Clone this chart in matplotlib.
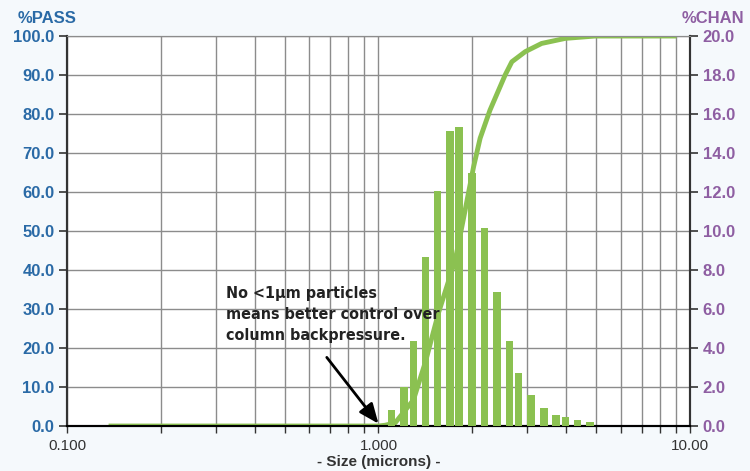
import numpy as np
import matplotlib.pyplot as plt
from matplotlib.ticker import LogLocator, NullFormatter

# bar sizes (microns) and %CHAN values
bar_size = [1.103, 1.209, 1.295, 1.415, 1.549, 1.699, 1.816, 1.993, 2.19,
            2.40, 2.63, 2.81, 3.09, 3.40, 3.71, 3.98, 4.35, 4.77]
bar_chan = [0.82, 1.98, 4.37, 8.68, 12.07, 15.13, 15.35, 12.96, 10.17,
            6.89, 4.37, 2.70, 1.59, 0.94, 0.56, 0.44, 0.31, 0.19]

# cumulative curve (%PASS)
cum_size = [0.136, 1.0, 1.05, 1.131, 1.295, 1.412, 1.558, 1.764, 1.898, 2.02,
            2.12, 2.28, 2.55, 2.68, 2.96, 3.34, 3.98, 4.96, 9.05]
cum_pass = [0, 0, 0.2, 0.8, 6.7, 16.2, 29.0, 42.6, 55.4, 66.5,
            73.8, 81.0, 90.0, 93.4, 96.0, 98.1, 99.4, 100, 100]

x_ticks = [0.1, 1.0, 10.0]
x_labels = ["0.100", "1.000", "10.00"]
pass_ticks = np.arange(0, 101, 10)
chan_ticks = np.arange(0, 21, 2)

GREEN = '#8bc151'
BLUE = '#2a6aa6'
PURPLE = '#8e5ea2'
GRID = '#8c8c8c'

plt.rcParams['font.family'] = ['Liberation Sans', 'DejaVu Sans']

fig = plt.figure(figsize=(7.5, 4.71), dpi=100, facecolor='#f5f9fc')
ax = fig.add_axes([0.0893, 0.0955, 0.8307, 0.828])
ax.set_facecolor('white')
ax2 = ax.twinx()

ax.set_xscale('log')
ax.set_xlim(0.1, 10)
ax.set_ylim(0, 100)
ax2.set_ylim(0, 20)

# grid lives on the lower axes so bars cover it
ax.xaxis.set_major_locator(plt.FixedLocator(x_ticks))
ax.set_xticklabels(x_labels)
ax.xaxis.set_minor_locator(LogLocator(base=10, subs=np.arange(2, 10)))
ax.xaxis.set_minor_formatter(NullFormatter())
ax.grid(True, which='both', axis='x', color=GRID, lw=1)
ax.grid(True, which='major', axis='y', color=GRID, lw=1)
ax.set_axisbelow(True)

ax.plot(cum_size, cum_pass, color=GREEN, lw=3.5, solid_capstyle='butt', zorder=3)

# bars, constant pixel width on log scale
w = 0.024
left = [s / 10 ** (w / 2) for s in bar_size]
widths = [s * (10 ** (w / 2) - 10 ** (-w / 2)) for s in bar_size]
ax2.bar(left, bar_chan, width=widths, align='edge', color=GREEN, zorder=3)

ax.set_yticks(pass_ticks)
ax.set_yticklabels([f"{v:.1f}" for v in pass_ticks])
ax2.set_yticks(chan_ticks)
ax2.set_yticklabels([f"{v:.1f}" for v in chan_ticks])

ax.tick_params(axis='y', direction='out', length=6, width=1.2, color='#333333',
               labelsize=12, labelcolor=BLUE, pad=3)
for t in ax.get_yticklabels():
    t.set_fontweight('bold')
ax2.tick_params(axis='y', direction='out', length=6, width=1.2, color='#333333',
                labelsize=12, labelcolor=PURPLE, pad=3)
for t in ax2.get_yticklabels():
    t.set_fontweight('bold')
ax.tick_params(axis='x', which='both', direction='out', length=5, width=1,
               color='#333333', labelsize=11, labelcolor='#333333', pad=4)

for a in (ax, ax2):
    a.spines['top'].set_color(GRID)
    a.spines['left'].set_color('#333333')
    a.spines['right'].set_color('#333333')
    a.spines['bottom'].set_color('black')
    a.spines['left'].set_linewidth(1.5)
    a.spines['right'].set_linewidth(1.5)
    a.spines['bottom'].set_linewidth(1.5)

ax.set_xlabel("- Size (microns) -", fontsize=11, fontweight='bold',
              color='#333333', labelpad=2)

fig.text(0.023, 0.945, "%PASS", color=BLUE, fontsize=12, fontweight='bold',
         ha='left', va='bottom')
fig.text(0.993, 0.945, "%CHAN", color=PURPLE, fontsize=12, fontweight='bold',
         ha='right', va='bottom')

ax2.text(0.255, 0.36, "No <1\u03bcm particles\nmeans better control over\ncolumn backpressure.",
         transform=ax2.transAxes, ha='left', va='top', fontsize=11.5,
         fontweight='bold', fontstretch='condensed', family=['DejaVu Sans'],
         color='#222222', linespacing=1.5, zorder=5)
ax2.annotate("", xy=(1.0, 0.12), xycoords='data', xytext=(0.417, 0.176),
             textcoords='axes fraction',
             arrowprops=dict(arrowstyle='-|>,head_length=1.2,head_width=0.5',
                             color='black', lw=2, shrinkA=0, shrinkB=0),
             zorder=5)

fig.savefig("out.png", dpi=100, facecolor=fig.get_facecolor())
